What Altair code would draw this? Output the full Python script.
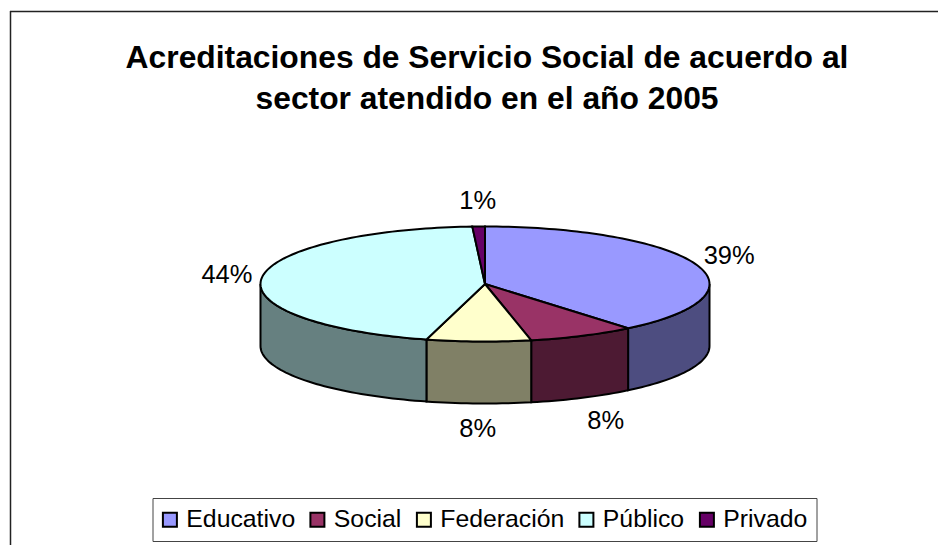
import math
import altair as alt
import pandas as pd

categories = ["Educativo", "Social", "Federación", "Público", "Privado"]
shares = [39.0, 7.7, 7.5, 44.9, 0.9]
pct_labels = ["39%", "8%", "8%", "44%", "1%"]
top_colors = ["#9999FF", "#993366", "#FFFFCC", "#CCFFFF", "#660066"]
side_colors = ["#4D4D80", "#4D1A33", "#808066", "#668080", "#330033"]
title_lines = ["Acreditaciones de Servicio Social de acuerdo al", "sector atendido en el año 2005"]

FONT = "Liberation Sans"
W, H = 930, 537
CX, CY, A, B, DEPTH = 485 - 8, 284 - 8, 224.5, 57.5, 62
dx_dom = [-CX / A, (W - CX) / A]
dy_dom = [(CY - H) / B, CY / B]
depth_u = DEPTH / B


def pt(t):
    r = math.radians(t)
    return math.sin(r), math.cos(r)


rows_top, rows_lab, side_layers = [], [], []
X = alt.X("x:Q", axis=None, scale=alt.Scale(domain=dx_dom, nice=False, zero=False))
Y = alt.Y("y:Q", axis=None, scale=alt.Scale(domain=dy_dom, nice=False, zero=False))

start = 0.0
total = sum(shares)
for cat, v, lab, col in zip(categories, shares, pct_labels, side_colors):
    a0, a1 = start * 360 / total, (start + v) * 360 / total
    n = max(2, int((a1 - a0) / 1.5))
    angs = [a0 + (a1 - a0) * i / n for i in range(n + 1)]
    rows_top.append({"cat": cat, "x": 0.0, "y": 0.0, "o": 0})
    for i, t in enumerate(angs):
        x, y = pt(t)
        rows_top.append({"cat": cat, "x": x, "y": y, "o": i + 1})
    s0, s1 = max(a0, 90), min(a1, 270)
    if s1 > s0:
        m = max(2, int((s1 - s0) / 1.5))
        arc = [s0 + (s1 - s0) * i / m for i in range(m + 1)]
        rows = []
        for t in arc:
            x, y = pt(t)
            rows.append({"x": x, "y": y, "o": len(rows)})
        for t in reversed(arc):
            x, y = pt(t)
            rows.append({"x": x, "y": y - depth_u, "o": len(rows)})
        side_layers.append(
            alt.Chart(pd.DataFrame(rows)).mark_line(
                interpolate="linear-closed", stroke="black", strokeWidth=2, fill=col
            ).encode(x=X, y=Y, order="o:Q")
        )
    mid = math.radians((a0 + a1) / 2)
    lx = math.sin(mid) * (A + 35) / A
    ly = math.cos(mid) * (B + 26) / B
    if math.cos(mid) < 0:
        ly -= depth_u
    rows_lab.append({"cat": cat, "lab": lab, "x": lx, "y": ly})
    start += v

top = pd.DataFrame(rows_top)
labs = pd.DataFrame(rows_lab)

top_layer = alt.Chart(top).mark_line(
    interpolate="linear-closed", stroke="black", strokeWidth=2
).encode(
    x=X, y=Y, order="o:Q",
    fill=alt.Fill("cat:N", scale=alt.Scale(domain=categories, range=top_colors), legend=None),
)

# a zero-sized point layer carries the legend, on the colour channel
legend_layer = alt.Chart(pd.DataFrame({"cat": categories})).mark_point(
    size=0, filled=True, shape="square", stroke="black", strokeWidth=2
).encode(
    color=alt.Color(
        "cat:N",
        scale=alt.Scale(domain=categories, range=top_colors),
        legend=alt.Legend(
            title=None, orient="none", legendX=152.5 - 8, legendY=498 - 8,
            direction="horizontal", columns=5,
            symbolType="square", symbolSize=196, symbolStrokeColor="black",
            symbolStrokeWidth=2, symbolOpacity=1, symbolOffset=-4,
            labelFont=FONT, labelFontSize=24.8,
            labelColor="black", labelOffset=4, columnPadding=10.5, labelLimit=300,
            padding=9, strokeColor="#444444", fillColor="white",
        ),
    ),
)

text_layer = alt.Chart(labs).transform_filter("datum.cat != 'Social'").mark_text(
    font=FONT, fontSize=25.5, color="black"
).encode(x=X, y=Y, text="lab:N")
text_social = alt.Chart(labs).transform_filter("datum.cat == 'Social'").mark_text(
    font=FONT, fontSize=25.5, color="black", dx=8
).encode(x=X, y=Y, text="lab:N")

frame = pd.DataFrame({"k": ["top", "left"]})
frame_top = alt.Chart(frame).transform_filter("datum.k == 'top'").mark_rule(
    color="#222222", strokeWidth=1.5
).encode(x=alt.value(2), x2=alt.value(W), y=alt.value(3.5))
frame_left = alt.Chart(frame).transform_filter("datum.k == 'left'").mark_rule(
    color="#222222", strokeWidth=1.5
).encode(x=alt.value(2.5), y=alt.value(3), y2=alt.value(H))

chart = (
    alt.layer(frame_top, frame_left, *side_layers, top_layer, legend_layer, text_layer, text_social)
    .properties(
        width=W, height=H, padding=0,
        autosize=alt.AutoSizeParams(type="none", contains="padding"),
        title=alt.TitleParams(
            title_lines, font=FONT, fontSize=31.8, fontWeight="bold", color="black",
            anchor="middle", frame="group", dx=14, offset=-133, lineHeight=41,
            baseline="alphabetic",
        ),
    )
    .resolve_scale(color="independent", fill="independent")
    .configure_view(stroke=None)
)

chart.save("out.html", embed_options={"renderer": "svg", "actions": False})
